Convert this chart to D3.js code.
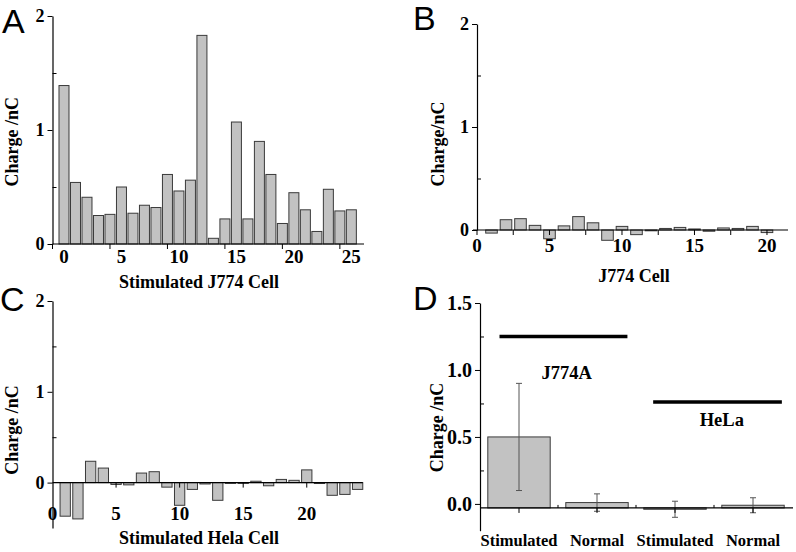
<!DOCTYPE html>
<html><head><meta charset="utf-8">
<script src="https://cdn.jsdelivr.net/npm/d3@7"></script>
<style>
body{margin:0;background:#fff}
svg{display:block}
</style>
</head><body><svg id="c" width="796" height="552"></svg>
<script>
// ---- data ----
const cellsA = d3.range(0, 26);
const chargeA = [1.39,0.54,0.41,0.25,0.26,0.50,0.27,0.34,0.32,0.61,0.465,0.56,1.83,0.05,0.22,1.07,0.22,0.90,0.61,0.18,0.45,0.30,0.11,0.48,0.29,0.30];
const cellsB = d3.range(1, 21);
const chargeB = [-0.03,0.10,0.11,0.045,-0.085,0.04,0.13,0.07,-0.10,0.035,-0.045,-0.005,0.015,0.025,0.01,-0.012,0.02,0.015,0.035,-0.025];
const cellsC = d3.range(1, 25);
const chargeC = [-0.37,-0.40,0.235,0.16,-0.02,-0.025,0.105,0.12,-0.05,-0.25,-0.075,-0.015,-0.195,-0.008,0,0.015,-0.035,0.035,0.025,0.14,-0.01,-0.14,-0.13,-0.075];
const xLabels = [0,5,10,15,20,25];
const yTicksMajor = [0,1,2];
const yTicksMinor = [0.5,1.5];

const groupsD = ["Stimulated","Normal","Stimulated","Normal"];
const meanD = [0.50,0.01,-0.04,-0.01];
const errD = [0.40,0.065,0.06,0.056];
const cellLines = ["J774A","HeLa"];
const lineLevel = [1.25,0.76];
const lineFrom = [0.25,2.22];
const lineTo = [1.89,3.87];
const lineLabelX = [1.11,3.1];
const lineLabelY = [0.975,0.626];
const yTicksD = [0,0.5,1,1.5];
const yTicksDMinor = [0.25,0.75,1.25];

const SERIF = "'Liberation Serif', Tinos, 'Times New Roman', 'DejaVu Serif', serif";
const SANS = "'Liberation Sans', Arimo, Arial, sans-serif";
const svg = d3.select("#c");
const BAR_FILL = "#c2c2c2", BAR_STROKE = "#3a3a3a";

function serif(sel, size){
  return sel.style("font-family", SERIF).style("font-weight","bold").style("font-size", size+"px").attr("fill","#000");
}

function barPanel(o){
  const g = svg.append("g");
  const x = d3.scaleLinear().domain(o.xDomain).range(o.xRange);
  const y = d3.scaleLinear().domain(o.yDomain).range(o.yRange);
  const w = Math.abs(x(o.barW) - x(0));
  g.selectAll("rect.bar").data(o.cells.map((c,i)=>({c, v:o.values[i]}))).join("rect")
    .attr("class","bar")
    .attr("x", d => x(d.c) - w/2)
    .attr("width", w)
    .attr("y", d => Math.min(y(d.v), y(0)))
    .attr("height", d => Math.max(0.8, Math.abs(y(d.v) - y(0))))
    .attr("fill", BAR_FILL).attr("stroke", BAR_STROKE).attr("stroke-width", 1);
  const ax = g.append("g").attr("transform", `translate(${o.xRange[0]},0)`)
    .call(d3.axisLeft(y).tickValues(yTicksMajor).tickSize(5).tickSizeOuter(0).tickPadding(3).tickFormat(d3.format("d")));
  serif(ax.selectAll("text"), 18);
  ax.select(".domain").attr("stroke","#000").attr("stroke-width",1.2);
  const axm = g.append("g").attr("transform", `translate(${o.xRange[0]},0)`)
    .call(d3.axisRight(y).tickValues(yTicksMinor).tickSize(4).tickFormat(""));
  axm.select(".domain").remove();
  g.append("line").attr("x1", x(o.xDomain[0]) - (o.lineExt||0)).attr("x2", o.xRange[1])
    .attr("y1", y(0)).attr("y2", y(0)).attr("stroke","#000").attr("stroke-width",1.2);
  g.selectAll("line.xt").data(o.tickMarks).join("line").attr("class","xt")
    .attr("x1", d=>x(d)).attr("x2", d=>x(d)).attr("y1", y(0)).attr("y2", y(0)+5)
    .attr("stroke","#000").attr("stroke-width",1);
  serif(g.selectAll("text.xl").data(o.labels).join("text").attr("class","xl")
    .attr("x", d=>x(d)).attr("y", o.labelY).attr("text-anchor","middle")
    .attr("dominant-baseline","central").text(d=>d), 19);
  serif(g.append("text").attr("x", o.xTitle[0]).attr("y", o.xTitle[1]).attr("text-anchor","middle")
    .attr("dominant-baseline","central").text(o.xTitleText), 18);
  serif(g.append("text").attr("transform", `translate(${o.yTitle[0]},${o.yTitle[1]}) rotate(-90)`)
    .attr("text-anchor","middle").attr("dominant-baseline","central").text(o.yTitleText), 18);
  g.append("text").attr("x", o.letter[0]).attr("y", o.letter[1])
    .style("font-family", SANS).style("font-size","34px").attr("fill","#000").text(o.letterText);
}

barPanel({cells:cellsA, values:chargeA, xDomain:[-1,26.1], xRange:[52.5,364], yDomain:[0,2], yRange:[244,16],
  barW:0.87, tickMarks:[-1,4,9,14,19,24], labels:xLabels, labelY:256,
  xTitle:[199,281.5], xTitleText:"Stimulated J774 Cell", yTitle:[12,141.7], yTitleText:"Charge /nC",
  letter:[2,33], letterText:"A"});

barPanel({cells:cellsB, values:chargeB, xDomain:[0,21.45], xRange:[477,788], yDomain:[0,2], yRange:[230,24],
  barW:0.8, tickMarks:[0,2.5,5,7.5,10,12.5,15,17.5,20], labels:xLabels.slice(0,5), labelY:245, lineExt:4,
  xTitle:[634,276], xTitleText:"J774 Cell", yTitle:[438,144], yTitleText:"Charge/nC",
  letter:[413,30], letterText:"B"});

barPanel({cells:cellsC, values:chargeC, xDomain:[0,24.4], xRange:[52.5,362.7], yDomain:[-0.5,2], yRange:[528,301],
  barW:0.81, tickMarks:[5,10,15,20], labels:xLabels.slice(0,5), labelY:513,
  xTitle:[199,538.3], xTitleText:"Stimulated Hela Cell", yTitle:[12,430], yTitleText:"Charge /nC",
  letter:[0,311], letterText:"C"});

// ---- Panel D ----
(function(){
  const g = svg.append("g");
  const x = d3.scaleBand().domain(d3.range(groupsD.length)).range([480,792]).paddingInner(0.2).paddingOuter(0.1);
  const xl = d3.scaleLinear().domain([0,groupsD.length]).range([480,792]);
  const y = d3.scaleLinear().domain([-0.2,1.5]).range([530.7,303]);
  const base = -0.03;
  const data = groupsD.map((gname,i)=>({i, m:meanD[i], e:errD[i]}));
  g.selectAll("rect").data(data).join("rect")
    .attr("x", d=>x(d.i)).attr("width", x.bandwidth())
    .attr("y", d=>Math.min(y(d.m), y(base))).attr("height", d=>Math.max(1, Math.abs(y(d.m)-y(base))))
    .attr("fill", BAR_FILL).attr("stroke", BAR_STROKE).attr("stroke-width",1);
  const cx = d => x(d.i)+x.bandwidth()/2;
  const eb = g.selectAll("g.eb").data(data).join("g").attr("class","eb")
    .attr("stroke","#555").attr("stroke-width",1);
  eb.append("line").attr("x1", cx).attr("x2", cx).attr("y1", d=>y(d.m+d.e)).attr("y2", d=>y(d.m-d.e));
  eb.append("line").attr("x1", d=>cx(d)-3).attr("x2", d=>cx(d)+3).attr("y1", d=>y(d.m+d.e)).attr("y2", d=>y(d.m+d.e));
  eb.append("line").attr("x1", d=>cx(d)-3).attr("x2", d=>cx(d)+3).attr("y1", d=>y(d.m-d.e)).attr("y2", d=>y(d.m-d.e));
  const ax = g.append("g").attr("transform","translate(480,0)")
    .call(d3.axisLeft(y).tickValues(yTicksD).tickSize(5).tickSizeOuter(0).tickPadding(3).tickFormat(d3.format(".1f")));
  serif(ax.selectAll("text"), 20);
  ax.select(".domain").attr("stroke","#000").attr("stroke-width",1.2);
  const axm = g.append("g").attr("transform","translate(480,0)")
    .call(d3.axisRight(y).tickValues(yTicksDMinor).tickSize(4).tickFormat(""));
  axm.select(".domain").remove();
  g.append("line").attr("x1",480).attr("x2",793).attr("y1",y(base)).attr("y2",y(base))
    .attr("stroke","#000").attr("stroke-width",1.2);
  g.selectAll("line.ct").data(data).join("line").attr("class","ct")
    .attr("x1", cx).attr("x2", cx).attr("y1", y(base)).attr("y2", y(base)+5).attr("stroke","#000");
  g.selectAll("line.bt").data(d3.range(1,groupsD.length)).join("line").attr("class","bt")
    .attr("x1", d=>xl(d)).attr("x2", d=>xl(d)).attr("y1", y(base)-3).attr("y2", y(base)).attr("stroke","#000");
  serif(g.selectAll("text.cl").data(data).join("text").attr("class","cl")
    .attr("x", cx).attr("y",540).attr("text-anchor","middle")
    .attr("dominant-baseline","central").text(d=>groupsD[d.i]), 16.5);
  cellLines.forEach((name,i)=>{
    g.append("line").attr("x1", xl(lineFrom[i])).attr("x2", xl(lineTo[i]))
      .attr("y1", y(lineLevel[i])).attr("y2", y(lineLevel[i])).attr("stroke","#000").attr("stroke-width",3.5);
    serif(g.append("text").attr("x", xl(lineLabelX[i])).attr("y", y(lineLabelY[i])).attr("text-anchor","middle")
      .attr("dominant-baseline","central").text(name), 18.5);
  });
  serif(g.append("text").attr("transform","translate(437,427.5) rotate(-90)")
    .attr("text-anchor","middle").attr("dominant-baseline","central").text("Charge /nC"), 18);
  g.append("text").attr("x",413).attr("y",310).style("font-family", SANS).style("font-size","34px")
    .attr("fill","#000").text("D");
})();
</script>
</body></html>
